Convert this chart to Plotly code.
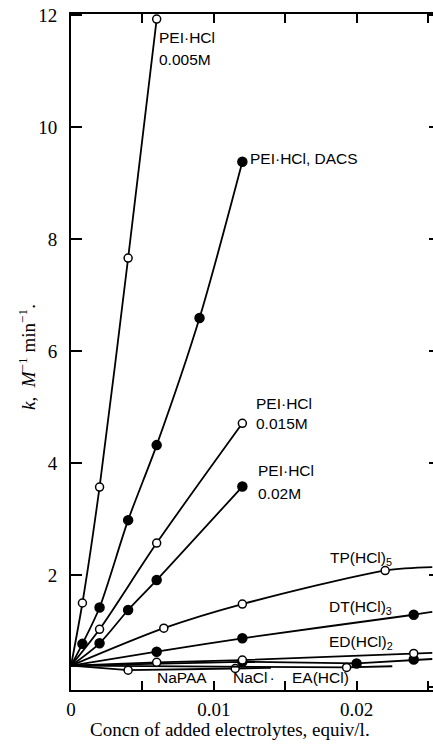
import plotly.graph_objects as go

# ---- data ----
k0 = 0.38  # common intercept at zero added electrolyte

pei005_x = [0.0008, 0.002, 0.004, 0.006]
pei005_y = [1.50, 3.57, 7.66, 11.93]

dacs_x = [0.0008, 0.002, 0.004, 0.006, 0.009, 0.012]
dacs_y = [0.77, 1.42, 2.98, 4.32, 6.59, 9.38]

pei015_x = [0.002, 0.006, 0.012]
pei015_y = [1.03, 2.57, 4.71]

pei02_x = [0.002, 0.004, 0.006, 0.012]
pei02_y = [0.78, 1.375, 1.91, 3.58]

tp_x = [0.0065, 0.012, 0.022]
tp_y = [1.05, 1.48, 2.08]
tp_end = (0.0253, 2.14)

dt_x = [0.006, 0.012, 0.024]
dt_y = [0.63, 0.87, 1.29]
dt_end = (0.0253, 1.34)

ed_x = [0.006, 0.012, 0.024]
ed_y = [0.44, 0.48, 0.60]
ed_end = (0.0253, 0.61)

ea_x = [0.012, 0.020, 0.024]
ea_y = [0.45, 0.42, 0.49]
ea_end = (0.0253, 0.50)

napaa_x = [0.004, 0.0115]
napaa_y = [0.30, 0.33]
napaa_end = (0.014, 0.34)

nacl_x = [0.0193]
nacl_y = [0.35]
nacl_end = (0.0225, 0.37)

x_tickvals = [0, 0.01, 0.02]
x_ticktext = ["0", "0.01", "0.02"]
x_minor_ticks = [0.005, 0.015, 0.025]
y_tickvals = [2, 4, 6, 8, 10, 12]
y_ticktext = ["2", "4", "6", "8", "10", "12"]

# ---- figure ----
fig = go.Figure()

def add_series(xs, ys, filled, end=None, shape="spline"):
    cx = [0] + list(xs)
    cy = [k0] + list(ys)
    if end is not None:
        cx.append(end[0])
        cy.append(end[1])
    fig.add_trace(go.Scatter(x=cx, y=cy, mode="lines",
                             line=dict(color="black", width=1.8, shape=shape, smoothing=0.8),
                             hoverinfo="skip", showlegend=False))
    fig.add_trace(go.Scatter(x=xs, y=ys, mode="markers",
                             marker=dict(symbol="circle", size=8 if not filled else 9,
                                         color="black" if filled else "white",
                                         line=dict(color="black", width=1.5)),
                             showlegend=False))

add_series(napaa_x, napaa_y, False, napaa_end, "linear")
add_series(nacl_x, nacl_y, False, nacl_end, "linear")
add_series(ea_x, ea_y, True, ea_end, "linear")
add_series(ed_x, ed_y, False, ed_end, "linear")
add_series(dt_x, dt_y, True, dt_end)
add_series(tp_x, tp_y, False, tp_end)
add_series(pei02_x, pei02_y, True)
add_series(pei015_x, pei015_y, False)
add_series(dacs_x, dacs_y, True)
add_series(pei005_x, pei005_y, False)

# right-side tick marks
fig.add_trace(go.Scatter(x=[None], y=[None], yaxis="y2", showlegend=False))

W, H = 433, 747
L, R, T, B = 71, 0, 14, 57
px_per_x = 357 / 0.025
xmax = (W - R - L) / px_per_x
ymin, ymax = -0.054, 12.02

def dx(px):
    return (px - L) / px_per_x

def dy(py):
    return (687 - py) / 56.0

sans = "Liberation Sans, Arial, sans-serif"
serif = "Liberation Serif, Times New Roman, serif"

labels = [
    ("PEI·HCl", 157, 37), ("0.005M", 157, 59),
    ("PEI·HCl, DACS", 248, 158),
    ("PEI·HCl", 254, 403), ("0.015M", 254, 423),
    ("PEI·HCl", 256, 470), ("0.02M", 256, 493),
    ("TP(HCl)<sub>5</sub>", 328, 558),
    ("DT(HCl)<sub>3</sub>", 327, 608),
    ("ED(HCl)<sub>2</sub>", 327, 643),
    ("NaPAA", 155, 678), ("NaCl", 231, 678), (".", 268, 675), ("EA(HCl)", 290, 678),
]
annotations = []
for txt, px, py in labels:
    annotations.append(dict(x=dx(px), y=dy(py), xref="x", yref="y", text=txt,
                            showarrow=False, xanchor="left", yanchor="middle",
                            font=dict(family=sans, size=15.5, color="black")))

annotations.append(dict(xref="paper", yref="paper", x=0, xshift=-44,
                        y=(690 - 357) / 676, xanchor="center", yanchor="middle",
                        textangle=-90, showarrow=False,
                        text="<i>k</i>,  <i>M</i><sup>−1</sup> min<sup>−1</sup>.",
                        font=dict(family=serif, size=19, color="black")))
annotations.append(dict(xref="paper", yref="paper", x=(230 - L) / (W - L - R),
                        y=(690 - 729) / 676, xanchor="center", yanchor="middle",
                        showarrow=False,
                        text="Concn of added electrolytes, equiv/l.",
                        font=dict(family=serif, size=19, color="black")))

fig.update_layout(
    width=W, height=H,
    margin=dict(l=L, r=R, t=T, b=B, pad=0),
    paper_bgcolor="white", plot_bgcolor="white",
    showlegend=False,
    xaxis=dict(range=[0, xmax], tickvals=x_tickvals, ticktext=x_ticktext,
               ticks="inside", ticklen=9, tickwidth=1.5, tickcolor="black",
               minor=dict(tickvals=x_minor_ticks, ticks="inside", ticklen=9,
                          tickwidth=1.5, tickcolor="black", showgrid=False),
               showline=True, linecolor="black", linewidth=2, mirror="ticks",
               showgrid=False, zeroline=False, ticklabelstandoff=1,
               tickfont=dict(family=serif, size=19, color="black")),
    yaxis=dict(range=[ymin, ymax], tickvals=y_tickvals, ticktext=y_ticktext,
               ticks="inside", ticklen=11, tickwidth=1.5, tickcolor="black",
               showline=True, linecolor="black", linewidth=2, mirror=False,
               showgrid=False, zeroline=False, ticklabelstandoff=8,
               tickfont=dict(family=serif, size=19, color="black")),
    yaxis2=dict(range=[ymin, ymax], overlaying="y", side="right",
                tickvals=[0] + y_tickvals, ticks="inside", ticklen=4, tickwidth=1.5,
                tickcolor="black", showticklabels=False, showline=False,
                showgrid=False, zeroline=False),
    annotations=annotations,
)

fig.write_html("out.html", config={"displayModeBar": False},
               post_script="document.body.style.margin='0';document.body.style.overflow='hidden';")
